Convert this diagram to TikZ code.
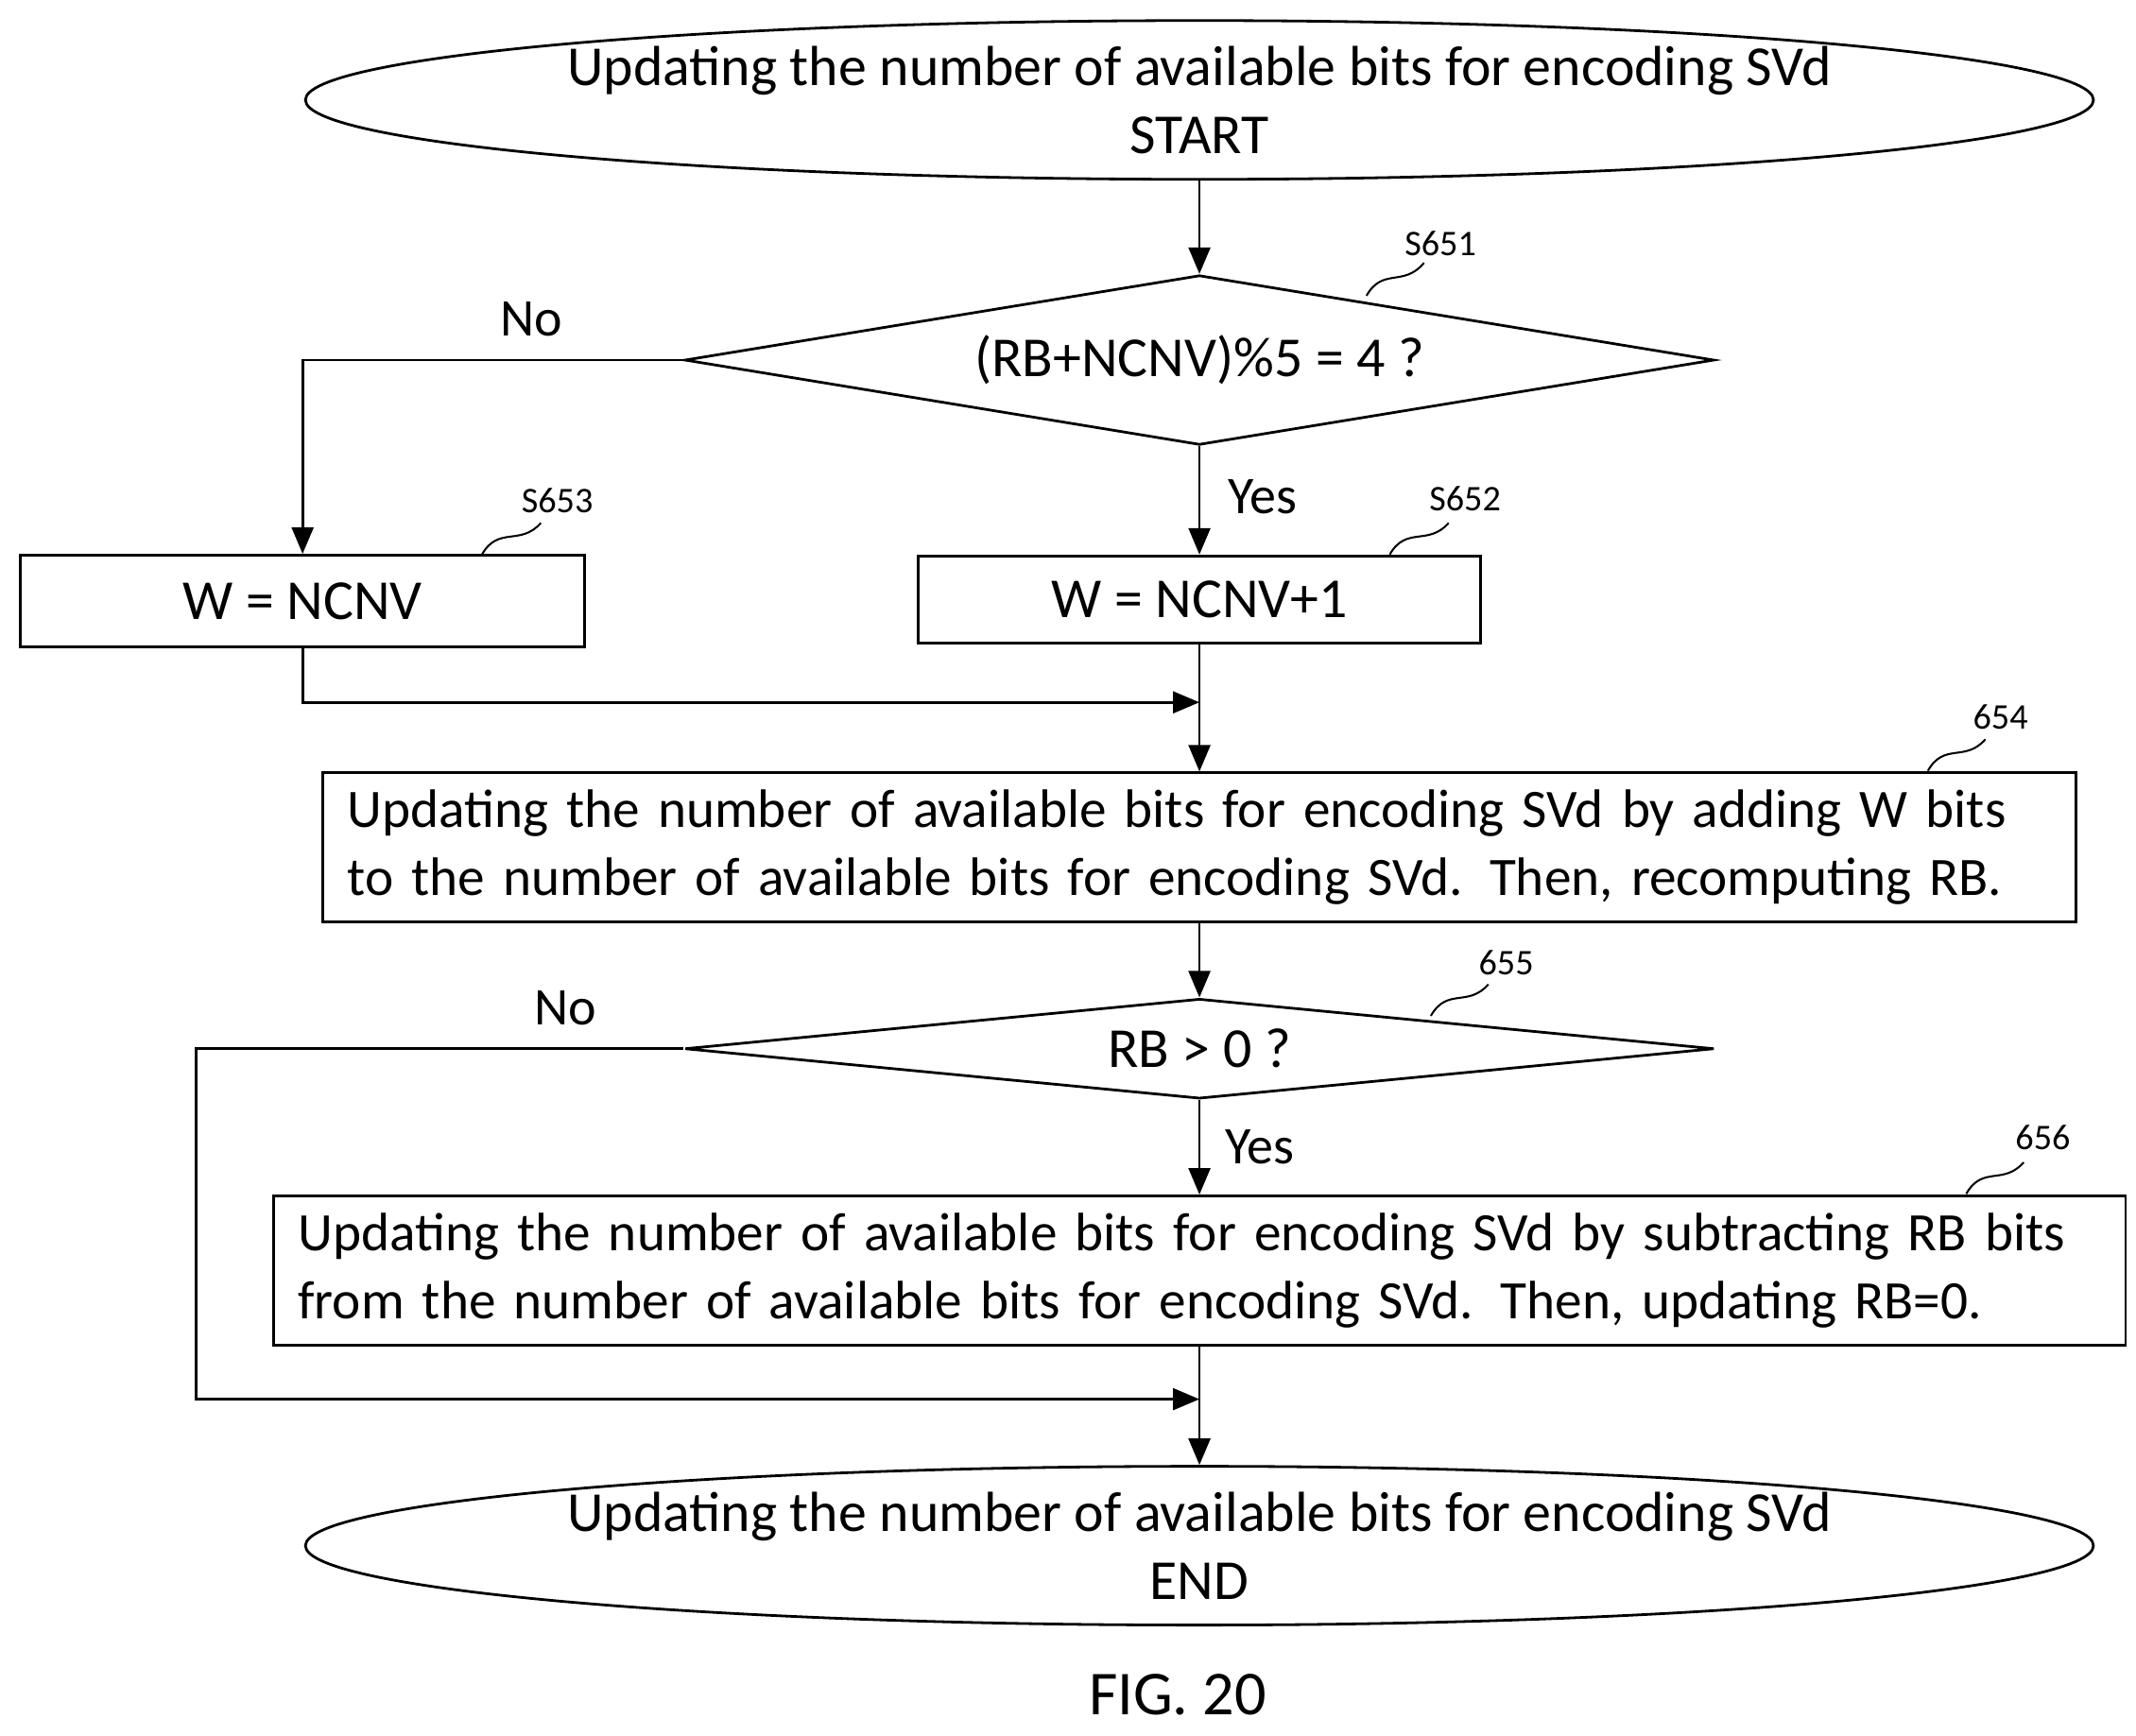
\documentclass[tikz,border=0pt]{standalone}
\usepackage{fontspec}
\setmainfont{Carlito}
\usetikzlibrary{shapes.geometric,arrows.meta}
\tikzset{
  flow/.style={line width=1.1pt,-{Triangle[width=9pt,length=11pt]}},
  term/.style={draw,line width=1.1pt,ellipse,inner sep=0pt,minimum width=21.56cm,minimum height=2.32cm,align=center,font=\fontsize{23.5}{28.5}\selectfont},
  decision/.style={draw,line width=1.1pt,diamond,aspect=10,inner sep=0pt,font=\fontsize{23.5}{28}\selectfont},
  process/.style={draw,line width=1.1pt,rectangle,inner sep=0pt,font=\fontsize{23.5}{28}\selectfont},
  longprocess/.style={draw,line width=1.1pt,rectangle,inner xsep=0.36cm,align=left,font=\fontsize{22.5}{28.5}\selectfont},
  answer/.style={font=\fontsize{22}{26}\selectfont},
  tag/.style={font=\fontsize{15}{18}\selectfont},
  squiggle/.style={line width=0.8pt}
}
\begin{document}
\begin{tikzpicture}[x=0.02cm,y=-0.02cm]
  \useasboundingbox (0,0) rectangle (1560,1268);

  % terminals and steps
  \node[term] (start) at (876,73) {Updating the number of available bits for encoding SVd\\START};
  \node[decision,minimum width=15.04cm,minimum height=2.48cm] (d651) at (876,263) {(RB+NCNV)\%5 = 4 ?};
  \node[process,minimum width=8.24cm,minimum height=1.34cm] (s653) at (221,439) {W = NCNV};
  \node[process,minimum width=8.22cm,minimum height=1.28cm] (s652) at (876,438) {W = NCNV+1};
  \coordinate (m1) at (876,513);
  \node[longprocess,text width=24.9cm,minimum height=2.18cm] (s654) at (876,619) {Updating the number of available bits for encoding SVd by adding W bits\\to the number of available bits for encoding SVd. Then, recomputing RB.};
  \node[decision,minimum width=15.04cm,minimum height=1.46cm] (d655) at (876,766) {RB > 0 ?};
  \node[longprocess,text width=26.34cm,minimum height=2.18cm] (s656) at (876,928) {Updating the number of available bits for encoding SVd by subtracting RB bits\\from the number of available bits for encoding SVd. Then, updating RB=0.};
  \coordinate (m2) at (876,1022);
  \node[term] (end) at (876,1129) {Updating the number of available bits for encoding SVd\\END};
  \node[font=\fontsize{26}{30}\selectfont] (fig) at (860,1238) {FIG. 20};

  % connectors
  \draw[flow] (start) -- (d651);
  \draw[flow] (d651.west) -| (s653.north);
  \draw[flow] (d651) -- (s652);
  \draw[flow] (s653.south) |- (m1);
  \draw[flow] (s652) -- (s654);
  \draw[flow] (s654) -- (d655);
  \draw[flow] (d655) -- (s656);
  \draw[flow] (d655.west) -- (143,766) |- (m2);
  \draw[flow] (s656) -- (end);

  % answers
  \node[answer] (no1) at (388,233) {No};
  \node[answer] (yes1) at (922,363) {Yes};
  \node[answer] (no2) at (413,736) {No};
  \node[answer] (yes2) at (920,838) {Yes};

  % reference tags
  \node[tag] (t651) at (1052,178) {S651};
  \node[tag] (t653) at (407,366) {S653};
  \node[tag] (t652) at (1070,364) {S652};
  \node[tag] (t654) at (1461,524) {654};
  \node[tag] (t655) at (1100,703) {655};
  \node[tag] (t656) at (1492,831) {656};
  \draw[squiggle] (998,216) .. controls (1010,195) and (1025,210) .. (1040,192);
  \draw[squiggle] (352,405) .. controls (364,384) and (380,399) .. (395,382);
  \draw[squiggle] (1015,405) .. controls (1027,384) and (1043,399) .. (1058,382);
  \draw[squiggle] (1408,563) .. controls (1420,542) and (1435,557) .. (1450,540);
  \draw[squiggle] (1045,742) .. controls (1057,721) and (1072,736) .. (1087,719);
  \draw[squiggle] (1436,872) .. controls (1448,851) and (1463,866) .. (1478,849);
\end{tikzpicture}
\end{document}
